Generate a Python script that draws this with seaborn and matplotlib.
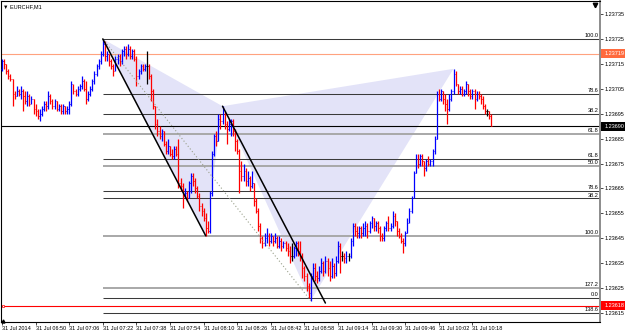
import matplotlib
matplotlib.use("Agg")
import matplotlib.pyplot as plt
import matplotlib.transforms as mtransforms
from matplotlib.patches import Rectangle
import numpy as np
import pandas as pd
import seaborn as sns

# ---------------- data ----------------
SYMBOL_TITLE = "\u25bc EURCHF,M1"
OPEN_FIRST = 1.23713

CLOSE = [
    1.23716, 1.23715, 1.23712, 1.23710, 1.23709, 1.23703, 1.23702, 1.23704, 1.23703, 1.23704,
    1.23702, 1.23700, 1.23702, 1.23699, 1.23701, 1.23697, 1.23696, 1.23694, 1.23695, 1.23697,
    1.23699, 1.23698, 1.23702, 1.23700, 1.23698, 1.23700, 1.23697, 1.23698, 1.23696, 1.23698,
    1.23696, 1.23697, 1.23699, 1.23707, 1.23704, 1.23703, 1.23705, 1.23706, 1.23708, 1.23705,
    1.23701, 1.23703, 1.23705, 1.23708, 1.23711, 1.23714, 1.23716, 1.23719, 1.23723, 1.23718,
    1.23719, 1.23716, 1.23714, 1.23712, 1.23717, 1.23718, 1.23716, 1.23720, 1.23721, 1.23719,
    1.23721, 1.23718, 1.23720, 1.23717, 1.23710, 1.23712, 1.23714, 1.23713, 1.23714, 1.23714,
    1.23710, 1.23704, 1.23698, 1.23691, 1.23688, 1.23686, 1.23688, 1.23683, 1.23680, 1.23682,
    1.23679, 1.23678, 1.23681, 1.23679, 1.23667, 1.23666, 1.23662, 1.23663, 1.23661, 1.23667,
    1.23670, 1.23668, 1.23665, 1.23662, 1.23658, 1.23656, 1.23653, 1.23649, 1.23648, 1.23663,
    1.23679, 1.23686, 1.23684, 1.23693, 1.23692, 1.23695, 1.23691, 1.23689, 1.23691, 1.23692,
    1.23688, 1.23684, 1.23680, 1.23672, 1.23670, 1.23672, 1.23668, 1.23669, 1.23666, 1.23667,
    1.23660, 1.23656, 1.23650, 1.23645, 1.23643, 1.23645, 1.23646, 1.23644, 1.23646, 1.23644,
    1.23645, 1.23642, 1.23644, 1.23642, 1.23643, 1.23641, 1.23640, 1.23638, 1.23638, 1.23641,
    1.23643, 1.23640, 1.23638, 1.23633, 1.23630, 1.23626, 1.23623, 1.23630, 1.23633, 1.23630,
    1.23629, 1.23632, 1.23635, 1.23632, 1.23636, 1.23633, 1.23630, 1.23634, 1.23631, 1.23636,
    1.23642, 1.23638, 1.23638, 1.23637, 1.23638, 1.23638, 1.23644, 1.23650, 1.23648, 1.23647,
    1.23649, 1.23647, 1.23649, 1.23650, 1.23648, 1.23651, 1.23653, 1.23650, 1.23651, 1.23649,
    1.23646, 1.23645, 1.23649, 1.23651, 1.23649, 1.23650, 1.23654, 1.23652, 1.23648, 1.23646,
    1.23644, 1.23643, 1.23647, 1.23651, 1.23656, 1.23661, 1.23671, 1.23677, 1.23675, 1.23678,
    1.23676, 1.23673, 1.23676, 1.23675, 1.23676, 1.23680, 1.23685, 1.23703, 1.23701, 1.23704,
    1.23701, 1.23699, 1.23697, 1.23701, 1.23704, 1.23711, 1.23707, 1.23704, 1.23705, 1.23703,
    1.23704, 1.23707, 1.23704, 1.23702, 1.23704, 1.23701, 1.23703, 1.23702, 1.23701, 1.23698,
    1.23696, 1.23696, 1.23694, 1.23690,
]

HIGH = [
    1.23717, 1.23717, 1.23715, 1.23713, 1.23711, 1.23709, 1.23704, 1.23706, 1.23705, 1.23706,
    1.23705, 1.23704, 1.23704, 1.23703, 1.23702, 1.23701, 1.23699, 1.23697, 1.23697, 1.23698,
    1.23700, 1.23700, 1.23704, 1.23703, 1.23701, 1.23701, 1.23700, 1.23699, 1.23699, 1.23699,
    1.23698, 1.23698, 1.23700, 1.23708, 1.23707, 1.23705, 1.23706, 1.23707, 1.23710, 1.23709,
    1.23708, 1.23704, 1.23706, 1.23709, 1.23712, 1.23715, 1.23717, 1.23720, 1.23725, 1.23724,
    1.23720, 1.23719, 1.23717, 1.23715, 1.23718, 1.23719, 1.23719, 1.23721, 1.23722, 1.23722,
    1.23723, 1.23722, 1.23721, 1.23721, 1.23718, 1.23713, 1.23715, 1.23715, 1.23715, 1.23720,
    1.23715, 1.23711, 1.23705, 1.23698, 1.23693, 1.23690, 1.23689, 1.23688, 1.23684, 1.23685,
    1.23682, 1.23681, 1.23682, 1.23682, 1.23685, 1.23669, 1.23667, 1.23665, 1.23664, 1.23668,
    1.23671, 1.23671, 1.23669, 1.23666, 1.23663, 1.23659, 1.23657, 1.23655, 1.23652, 1.23664,
    1.23680, 1.23687, 1.23688, 1.23695, 1.23695, 1.23698, 1.23696, 1.23692, 1.23693, 1.23693,
    1.23693, 1.23689, 1.23685, 1.23681, 1.23676, 1.23675, 1.23673, 1.23672, 1.23670, 1.23672,
    1.23667, 1.23661, 1.23657, 1.23651, 1.23646, 1.23647, 1.23649, 1.23647, 1.23647, 1.23646,
    1.23647, 1.23646, 1.23646, 1.23645, 1.23644, 1.23644, 1.23643, 1.23642, 1.23643, 1.23642,
    1.23644, 1.23644, 1.23644, 1.23639, 1.23634, 1.23631, 1.23627, 1.23631, 1.23635, 1.23635,
    1.23632, 1.23634, 1.23637, 1.23636, 1.23638, 1.23637, 1.23636, 1.23637, 1.23635, 1.23638,
    1.23644, 1.23643, 1.23640, 1.23639, 1.23640, 1.23639, 1.23645, 1.23651, 1.23651, 1.23650,
    1.23650, 1.23650, 1.23651, 1.23652, 1.23651, 1.23652, 1.23654, 1.23653, 1.23652, 1.23652,
    1.23650, 1.23647, 1.23650, 1.23652, 1.23654, 1.23651, 1.23656, 1.23655, 1.23652, 1.23649,
    1.23647, 1.23645, 1.23648, 1.23653, 1.23657, 1.23662, 1.23672, 1.23679, 1.23679, 1.23679,
    1.23679, 1.23676, 1.23677, 1.23678, 1.23677, 1.23681, 1.23686, 1.23704, 1.23705, 1.23705,
    1.23704, 1.23703, 1.23701, 1.23703, 1.23705, 1.23713, 1.23712, 1.23707, 1.23706, 1.23706,
    1.23705, 1.23708, 1.23707, 1.23705, 1.23705, 1.23705, 1.23704, 1.23704, 1.23703, 1.23702,
    1.23699, 1.23697, 1.23696, 1.23695,
]

LOW = [
    1.23712, 1.23713, 1.23711, 1.23709, 1.23708, 1.23698, 1.23701, 1.23702, 1.23702, 1.23701,
    1.23696, 1.23699, 1.23698, 1.23698, 1.23699, 1.23695, 1.23694, 1.23693, 1.23692, 1.23694,
    1.23696, 1.23696, 1.23697, 1.23699, 1.23697, 1.23697, 1.23696, 1.23696, 1.23695, 1.23695,
    1.23695, 1.23695, 1.23695, 1.23698, 1.23703, 1.23702, 1.23702, 1.23704, 1.23705, 1.23704,
    1.23699, 1.23700, 1.23702, 1.23704, 1.23707, 1.23710, 1.23713, 1.23715, 1.23718, 1.23716,
    1.23716, 1.23714, 1.23713, 1.23710, 1.23712, 1.23715, 1.23714, 1.23715, 1.23718, 1.23717,
    1.23718, 1.23717, 1.23717, 1.23716, 1.23706, 1.23709, 1.23711, 1.23712, 1.23712, 1.23707,
    1.23709, 1.23700, 1.23697, 1.23689, 1.23686, 1.23685, 1.23684, 1.23682, 1.23679, 1.23679,
    1.23678, 1.23677, 1.23677, 1.23678, 1.23665, 1.23664, 1.23657, 1.23661, 1.23660, 1.23661,
    1.23663, 1.23666, 1.23663, 1.23661, 1.23656, 1.23654, 1.23652, 1.23646, 1.23647, 1.23647,
    1.23662, 1.23678, 1.23682, 1.23684, 1.23689, 1.23691, 1.23689, 1.23683, 1.23688, 1.23686,
    1.23686, 1.23680, 1.23679, 1.23663, 1.23668, 1.23668, 1.23666, 1.23666, 1.23664, 1.23665,
    1.23658, 1.23655, 1.23648, 1.23643, 1.23641, 1.23642, 1.23643, 1.23642, 1.23643, 1.23642,
    1.23643, 1.23641, 1.23641, 1.23640, 1.23641, 1.23640, 1.23638, 1.23635, 1.23636, 1.23637,
    1.23638, 1.23638, 1.23636, 1.23629, 1.23628, 1.23624, 1.23621, 1.23620, 1.23628, 1.23628,
    1.23627, 1.23628, 1.23631, 1.23630, 1.23631, 1.23630, 1.23628, 1.23629, 1.23629, 1.23630,
    1.23635, 1.23631, 1.23636, 1.23635, 1.23635, 1.23636, 1.23637, 1.23642, 1.23646, 1.23645,
    1.23645, 1.23645, 1.23646, 1.23646, 1.23645, 1.23647, 1.23649, 1.23648, 1.23648, 1.23647,
    1.23644, 1.23644, 1.23644, 1.23648, 1.23648, 1.23648, 1.23649, 1.23650, 1.23646, 1.23645,
    1.23643, 1.23639, 1.23642, 1.23647, 1.23651, 1.23655, 1.23661, 1.23671, 1.23673, 1.23674,
    1.23674, 1.23670, 1.23672, 1.23674, 1.23674, 1.23674, 1.23679, 1.23685, 1.23700, 1.23700,
    1.23699, 1.23696, 1.23691, 1.23696, 1.23700, 1.23703, 1.23706, 1.23703, 1.23703, 1.23702,
    1.23702, 1.23703, 1.23702, 1.23701, 1.23701, 1.23697, 1.23700, 1.23701, 1.23699, 1.23697,
    1.23695, 1.23694, 1.23693, 1.23690,
]

TIME_LABELS = ["31 Jul 2014", "31 Jul 06:50", "31 Jul 07:06", "31 Jul 07:22", "31 Jul 07:38",
               "31 Jul 07:54", "31 Jul 08:10", "31 Jul 08:26", "31 Jul 08:42", "31 Jul 08:58",
               "31 Jul 09:14", "31 Jul 09:30", "31 Jul 09:46", "31 Jul 10:02", "31 Jul 10:18"]
TIME_LABEL_BARS = [0, 16, 32, 48, 64, 80, 96, 112, 128, 144, 160, 176, 192, 208, 224]

PRICE_TICKS = [1.23735, 1.23725, 1.23715, 1.23705, 1.23695, 1.23685, 1.23675,
               1.23665, 1.23655, 1.23645, 1.23635, 1.23625, 1.23615]

FIB_PRICES = [1.23725, 1.23703, 1.23695, 1.23687, 1.23677, 1.23674,
              1.23664, 1.23661, 1.23646, 1.23625, 1.23621, 1.23615]
FIB_LABELS = ["100.0", "78.6", "38.2", "61.8", "61.8", "50.0",
              "78.6", "38.2", "100.0", "127.2", "0.0", "138.6"]
FIB_TONE = ["dark", "dark", "dark", "grey", "dark", "grey",
            "dark", "dark", "grey", "grey", "dark", "dark"]

HLINE_PRICES = [1.23719, 1.23690, 1.23618]
HLINE_LABELS = ["1.23719", "1.23690", "1.23618"]
HLINE_COLORS = ["#ffa27f", "#000000", "#ff0000"]
HLINE_BOX = ["#ff6a3d", "#000000", "#ff0000"]

PIVOT_NAMES = ["X", "A", "B", "C", "D"]
PIVOT_BARS = [48, 97, 105, 147, 215]
PIVOT_SIDE = ["high", "low", "high", "low", "high"]
TREND_END_BAR = 154
TREND_END_PRICE = 1.23619

# ---------------- style ----------------
sns.set_style("white")
plt.rcParams["font.family"] = ["Liberation Sans", "DejaVu Sans"]
FS = 4.0

W, H = 625, 335
fig = plt.figure(figsize=(W / 100, H / 100), dpi=100)
AX_L, AX_R, AX_T, AX_B = 1, 600, 1, 322
ax = fig.add_axes([AX_L / W, (H - AX_B) / H, (AX_R - AX_L) / W, (AX_B - AX_T) / H])
ax.set_facecolor("white")

# pixel layout -> data limits
BAR_PX0, BAR_DX = 2.0, 2.1
xlim = ((AX_L - BAR_PX0) / BAR_DX, (AX_R - BAR_PX0) / BAR_DX)
PX_PER_PRICE = (313 - 14) / (1.23735 - 1.23615)
ylim = (1.23615 - (AX_B - 313) / PX_PER_PRICE, 1.23735 + (14 - AX_T) / PX_PER_PRICE)
ax.set_xlim(*xlim)
ax.set_ylim(*ylim)

# ---------------- dataframe ----------------
n = len(CLOSE)
opens = [OPEN_FIRST] + CLOSE[:-1]
df = pd.DataFrame({"bar": np.arange(n), "open": opens, "high": HIGH, "low": LOW, "close": CLOSE})
df["dir"] = np.where(df["close"] > df["open"], "up",
                     np.where(df["close"] < df["open"], "down", "flat"))

piv = pd.DataFrame({"name": PIVOT_NAMES, "bar": PIVOT_BARS, "side": PIVOT_SIDE})
piv["price"] = [HIGH[b] if s == "high" else LOW[b] for b, s in zip(PIVOT_BARS, PIVOT_SIDE)]
P = piv.set_index("name")

# ---------------- harmonic pattern fills ----------------
fill_col = "#e3e3f8"
for tri in (["X", "A", "B"], ["B", "C", "D"]):
    ax.fill(P.loc[tri, "bar"], P.loc[tri, "price"], color=fill_col, lw=0, zorder=1)

# ---------------- fib levels ----------------
x_fib0 = P.loc["X", "bar"]
for price, lab, tone in zip(FIB_PRICES, FIB_LABELS, FIB_TONE):
    if tone == "dark":
        ax.hlines(price, x_fib0, xlim[1], color="#3a3a3a", lw=0.75, zorder=2)
    else:
        ax.hlines(price, x_fib0, xlim[1], color="#a8a8a8", lw=1.4, zorder=2)
    ax.text(xlim[1] - 0.9, price + 0.6 / PX_PER_PRICE, lab, ha="right", va="bottom",
            fontsize=FS, color="#000000", zorder=6)

# ---------------- full-width horizontal lines ----------------
for price, col in zip(HLINE_PRICES, HLINE_COLORS):
    ax.axhline(price, color=col, lw=0.8, zorder=2.5)
ax.plot([xlim[0] + 1.0], [HLINE_PRICES[2]], marker="s", ms=2.0, mfc="white",
        mec="#ff0000", mew=0.5, zorder=7, clip_on=False)

# ---------------- OHLC bars ----------------
bar_colors = {"up": "#0000ff", "down": "#ff0000", "flat": "#000000"}
for d, g in df.groupby("dir"):
    c = bar_colors[d]
    ax.vlines(g["bar"], g["low"], g["high"], color=c, lw=0.9, zorder=3)
    ax.hlines(g["open"], g["bar"] - 0.4, g["bar"], color=c, lw=0.6, zorder=3)
    ax.hlines(g["close"], g["bar"], g["bar"] + 0.4, color=c, lw=0.6, zorder=3)

# ---------------- pattern lines (seaborn) ----------------
xa = P.loc[["X", "A"]].reset_index()
sns.lineplot(data=xa, x="bar", y="price", color="black", lw=1.1, sort=False,
             estimator=None, ax=ax, zorder=5)
bt = pd.DataFrame({"bar": [P.loc["B", "bar"], TREND_END_BAR],
                   "price": [P.loc["B", "price"], TREND_END_PRICE]})
sns.lineplot(data=bt, x="bar", y="price", color="black", lw=1.1, sort=False,
             estimator=None, ax=ax, zorder=5)
xc = P.loc[["X", "C"]].reset_index()
sns.lineplot(data=xc, x="bar", y="price", color="#9aa08c", lw=0.8, sort=False,
             estimator=None, ax=ax, zorder=4, linestyle=(0, (1, 2)))

ax.set_xlim(*xlim)
ax.set_ylim(*ylim)
ax.set_xlabel("")
ax.set_ylabel("")

# ---------------- axes / ticks ----------------
ax.yaxis.tick_right()
ax.set_yticks(PRICE_TICKS)
ax.set_yticklabels([f"{p:.5f}" for p in PRICE_TICKS])
ax.tick_params(axis="y", right=True, left=False, labelsize=FS, length=2, width=0.5,
               pad=1.5, colors="#000000")
ax.set_xticks(TIME_LABEL_BARS)
ax.set_xticklabels(TIME_LABELS)
ax.tick_params(axis="x", bottom=True, labelsize=FS, length=2, width=0.5, pad=1.0,
               colors="#000000")
for lbl in ax.get_xticklabels():
    lbl.set_horizontalalignment("left")

for side in ("left", "top", "bottom"):
    ax.spines[side].set_color("#000000")
    ax.spines[side].set_linewidth(0.8)
ax.spines["right"].set_color("#8c8c8c")
ax.spines["right"].set_linewidth(1.4)

# highlighted price labels on the right scale
trans = mtransforms.blended_transform_factory(fig.transFigure, ax.transData)
box_h = 9 / PX_PER_PRICE
for price, lab, bc in zip(HLINE_PRICES, HLINE_LABELS, HLINE_BOX):
    fig.add_artist(Rectangle(((AX_R + 1) / W, price - box_h / 2), (W - AX_R - 1) / W, box_h,
                             transform=trans, facecolor=bc, edgecolor="none", zorder=10))
    fig.text(604.5 / W, 0, lab, transform=trans, fontsize=FS, color="white",
             ha="left", va="center", zorder=11).set_y(price)

# title and chart markers
ax.text(2 / (AX_R - AX_L), 1 - 6 / (AX_B - AX_T), SYMBOL_TITLE, transform=ax.transAxes,
        fontsize=FS, ha="left", va="center", color="#000000", zorder=8)
ax.plot([1 - 5 / (AX_R - AX_L)], [1 - 4 / (AX_B - AX_T)], marker="v", ms=3.2, color="black",
        transform=ax.transAxes, clip_on=False, zorder=8)
ax.plot([2 / (AX_R - AX_L)], [1.5 / (AX_B - AX_T)], marker="^", ms=2.2, color="black",
        transform=ax.transAxes, clip_on=False, zorder=8)

fig.savefig("out.png", dpi=100)
